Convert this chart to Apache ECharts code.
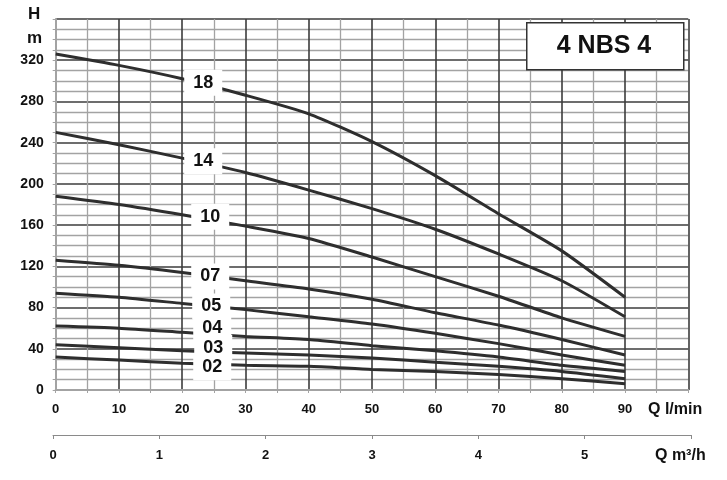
<!DOCTYPE html>
<html>
<head>
<meta charset="utf-8">
<script src="https://cdn.jsdelivr.net/npm/echarts@6/dist/echarts.min.js"></script>
<style>
  html, body { margin: 0; padding: 0; background: #fff; }
  #chart { width: 727px; height: 480px; }
</style>
</head>
<body>
<div id="chart"></div>
<script>
// ---- data ----
const flowLmin = [0, 10, 20, 30, 40, 50, 60, 70, 80, 90];
const curveNames = ['18', '14', '10', '07', '05', '04', '03', '02'];
const head18 = [326, 315, 302, 286, 268, 241, 208, 171, 135, 90];
const head14 = [250, 238, 225, 211, 194, 176, 156, 132, 106, 71];
const head10 = [188, 180, 170, 159, 147, 129, 110, 91, 70, 52];
const head07 = [126, 121, 114, 106, 98, 88, 75, 63, 49, 34];
const head05 = [94, 90, 84, 78, 71, 64, 55, 45, 34, 24];
const head04 = [62, 60, 56, 52, 49, 43, 38, 32, 24, 18];
const head03 = [44, 41, 38, 36, 34, 31, 27, 23, 18, 11];
const head02 = [32, 29, 26, 24, 23, 20, 18, 15, 11, 6];
const heads = [head18, head14, head10, head07, head05, head04, head03, head02];
const yTickMax = 320;      // last labelled head tick
const xTickMax = 90;       // last labelled flow tick (l/min)
const m3hTickMax = 5;      // last labelled flow tick (m3/h)
const labelIndex = 2;      // curve point (Q = 20) that carries the curve name

// ---- style (not data) ----
const labelOffsets = [[21, 4], [21, 3], [28, 2], [28, 4], [29, 3], [30, -4], [31, -3], [30, 4]];
const DARK = '#3c3c3c';
const LIGHT = '#a3a3a3';
const FONT = 'Liberation Sans, Arial, sans-serif';

const chart = echarts.init(document.getElementById('chart'), null, { renderer: 'canvas' });

const lineSeries = heads.map((h, i) => ({
  type: 'line',
  name: curveNames[i],
  xAxisIndex: 0, yAxisIndex: 0,
  data: flowLmin.map((q, k) => [q, h[k]]),
  showSymbol: false,
  symbol: 'none',
  smooth: 0.2,
  lineStyle: { color: '#2e2e2e', width: 3 },
  silent: true,
  z: 3
}));

const labelSeries = heads.map((h, i) => ({
  type: 'scatter',
  xAxisIndex: 0, yAxisIndex: 0,
  data: [[flowLmin[labelIndex], h[labelIndex]]],
  symbolSize: 0,
  silent: true,
  itemStyle: { opacity: 1 },
  z: 10 + i,
  label: {
    show: true,
    position: 'inside',
    offset: labelOffsets[i],
    formatter: curveNames[i],
    color: '#111',
    opacity: 1,
    fontFamily: FONT,
    fontWeight: 'bold',
    fontSize: 18,
    lineHeight: 18,
    backgroundColor: '#fff',
    padding: [4, 9]
  }
}));

const option = {
  animation: false,
  backgroundColor: '#fff',
  grid: [
    { left: 55.7, right: 38.7, top: 19, bottom: 90 },
    { left: 53, right: 36, top: 434, height: 1 }
  ],
  xAxis: [
    {
      type: 'value', gridIndex: 0, min: 0, max: 100, interval: 10,
      axisLine: { show: true, lineStyle: { color: LIGHT, width: 2 } },
      axisTick: { show: true, length: 3, lineStyle: { color: LIGHT } },
      minorTick: { show: true, splitNumber: 2, length: 3, lineStyle: { color: LIGHT } },
      splitLine: { show: true, lineStyle: { color: DARK, width: 1.6 } },
      minorSplitLine: { show: true, lineStyle: { color: LIGHT, width: 1.3 } },
      axisLabel: {
        margin: 13, color: '#111', fontFamily: FONT, fontWeight: 'bold', fontSize: 13,
        formatter: v => (v <= xTickMax ? String(v) : '')
      }
    },
    {
      type: 'value', gridIndex: 1, min: 0, max: 6, interval: 1, position: 'bottom',
      axisLine: { show: true, onZero: false, lineStyle: { color: '#8a8a8a', width: 1 } },
      axisTick: { show: true, length: 4, lineStyle: { color: '#8a8a8a' } },
      splitLine: { show: false },
      axisLabel: {
        margin: 14, color: '#111', fontFamily: FONT, fontWeight: 'bold', fontSize: 13,
        formatter: v => (v <= m3hTickMax ? String(v) : '')
      }
    }
  ],
  yAxis: [
    {
      type: 'value', gridIndex: 0, min: 0, max: 360, interval: 40,
      axisLine: { show: true, lineStyle: { color: LIGHT, width: 2 } },
      axisTick: { show: true, length: 3, lineStyle: { color: LIGHT } },
      minorTick: { show: true, splitNumber: 4, length: 3, lineStyle: { color: LIGHT } },
      splitLine: { show: true, lineStyle: { color: DARK, width: 1.6 } },
      minorSplitLine: { show: true, lineStyle: { color: LIGHT, width: 1.3 } },
      axisLabel: {
        margin: 12, color: '#111', fontFamily: FONT, fontWeight: 'bold', fontSize: 14,
        formatter: v => (v <= yTickMax ? String(v) : '')
      }
    },
    { type: 'value', gridIndex: 1, min: 0, max: 1, show: false }
  ],
  graphic: [
    { type: 'text', left: 28, top: 6, z: 100, style: { text: 'H', font: 'bold 17px ' + FONT, fill: '#111' } },
    { type: 'text', left: 27, top: 30, z: 100, style: { text: 'm', font: 'bold 17px ' + FONT, fill: '#111' } },
    { type: 'text', left: 648, top: 402, z: 100, style: { text: 'Q l/min', font: 'bold 16px ' + FONT, fill: '#111' } },
    { type: 'text', left: 655, top: 448, z: 100, style: { text: 'Q m³/h', font: 'bold 16px ' + FONT, fill: '#111' } },
    { type: 'rect', left: 526, top: 22, z: 100,
      shape: { x: 0, y: 0, width: 157, height: 47 },
      style: { fill: '#fff', stroke: '#333', lineWidth: 1.5 } },
    { type: 'text', x: 604, y: 46, z: 101,
      style: { text: '4 NBS 4', font: 'bold 25px ' + FONT, fill: '#111', align: 'center', verticalAlign: 'middle' } }
  ],
  series: lineSeries.concat(labelSeries)
};

chart.setOption(option);
</script>
</body>
</html>
